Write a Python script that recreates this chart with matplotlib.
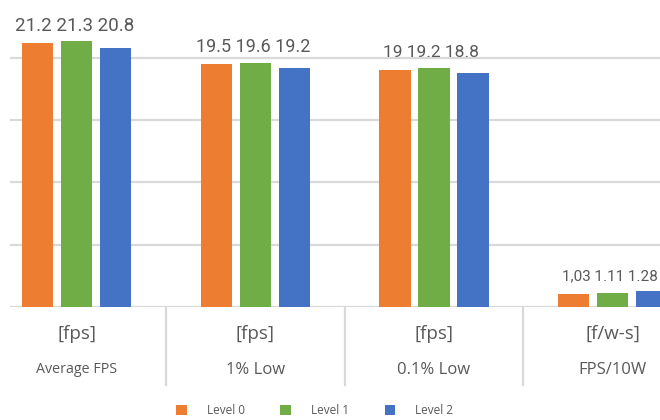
import numpy as np
import matplotlib.pyplot as plt
from matplotlib.patches import Patch

# metric groups: unit line + name line under each group
groups=      ['Average FPS', '1% Low', '0.1% Low', 'FPS/10W']
units=       ['[fps]', '[fps]', '[fps]', '[f/w-s]']
series=      ['Level 0', 'Level 1', 'Level 2']
level0=      [21.2, 19.5, 19.0, 1.03]
level1=      [21.3, 19.6, 19.2, 1.11]
level2=      [20.8, 19.2, 18.8, 1.28]
level0_text= ['21.2', '19.5', '19', '1,03']
level1_text= ['21.3', '19.6', '19.2', '1.11']
level2_text= ['20.8', '19.2', '18.8', '1.28']
label_sizes= [13.5, 13, 12.5, 11]

colors=    ['#ED7D31', '#70AD47', '#4472C4']
TEXT_C=    '#595959'
GRID_C=    '#D9D9D9'
LABEL_FONT= ['Roboto', 'DejaVu Sans']
CAT_FONT=   ['Open Sans', 'DejaVu Sans']

def main():
	values= [level0, level1, level2]
	texts=  [level0_text, level1_text, level2_text]
	x= np.arange(len(groups))
	width= 0.174
	pitch= 0.2185

	fig= plt.figure(figsize=(6.6, 4.2), dpi=100)
	ax= fig.add_axes([10/660, 113/420, 650/660, 307/420])

	for i in range(len(series)):
		xs= x+(i-1)*pitch
		ax.bar(xs, values[i], width, color=colors[i], zorder=3)

	# value labels of a group run as one line above its tallest bar
	for g in range(len(groups)):
		top= max(values[i][g] for i in range(len(series)))
		line= ' '.join(texts[i][g] for i in range(len(series)))
		ax.text(x[g]-0.015, top+0.85, line, ha='center', va='baseline',
		        fontsize=label_sizes[g], color=TEXT_C, family=LABEL_FONT, zorder=4)

	ax.set_xlim(-0.375, 3.266)
	ax.set_ylim(0, 24.62)
	ax.set_yticks([0, 5, 10, 15, 20])
	ax.yaxis.grid(True, color=GRID_C, linewidth=1.6, zorder=0)
	ax.tick_params(left=False, bottom=False, labelleft=False, labelbottom=False)
	for s in ax.spines.values():
		s.set_visible(False)

	# two-line category axis with separators between groups
	tr= ax.get_xaxis_transform()
	for g in range(len(groups)):
		ax.text(x[g], -0.088, units[g], transform=tr, ha='center', va='center',
		        fontsize=13.5, color=TEXT_C, family=CAT_FONT)
		ax.text(x[g], -0.205, groups[g], transform=tr, ha='center', va='center',
		        fontsize=10.3 if g==0 else 12, color=TEXT_C, family=CAT_FONT)
	for b in x[:-1]+0.5:
		ax.plot([b, b], [0, -0.254], transform=tr, color=GRID_C, linewidth=1.6, clip_on=False)

	handles= [Patch(facecolor=c) for c in colors]
	fig.legend(handles, series, loc='center', bbox_to_anchor=(0.477, 0.022), ncol=3,
	           frameon=False, handlelength=0.9, handleheight=0.9,
	           handletextpad=1.7, columnspacing=3.0, labelcolor=TEXT_C,
	           prop={'family': CAT_FONT, 'size': 8.5})

	fig.savefig('out.png', dpi=100)

if __name__=='__main__':
	main()
